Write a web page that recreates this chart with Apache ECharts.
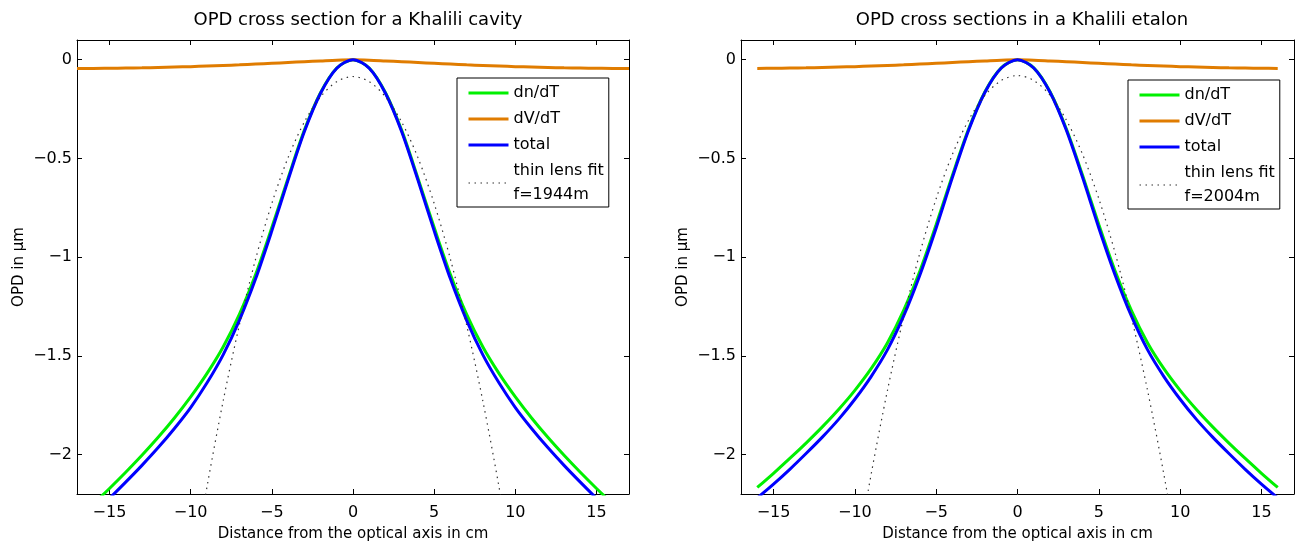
<!DOCTYPE html>
<html>
<head>
<meta charset="utf-8">
<script src="https://cdn.jsdelivr.net/npm/echarts@6/dist/echarts.min.js"></script>
<style>
  html, body { margin: 0; padding: 0; background: #fff; }
  #main { width: 1298px; height: 547px; }
</style>
</head>
<body>
<div id="main"></div>
<script>
// x positions in cm
const xLeft = [-17,-16,-15,-14,-13,-12,-11,-10,-9,-8,-7,-6,-5,-4,-3,-2,-1,0,1,2,3,4,5,6,7,8,9,10,11,12,13,14,15,16,17]
const xRight = [-16,-15,-14,-13,-12,-11,-10,-9,-8,-7,-6,-5,-4,-3,-2,-1,0,1,2,3,4,5,6,7,8,9,10,11,12,13,14,15,16]
const xLens = [-10,-9,-8,-7,-6,-5,-4,-3,-2,-1,0,1,2,3,4,5,6,7,8,9,10]

// cavity (left)
const dnLeft = [-2.325,-2.25,-2.172,-2.09,-2.004,-1.913,-1.815,-1.708,-1.59,-1.455,-1.29,-1.088,-0.85,-0.6,-0.358,-0.167,-0.042,0,-0.042,-0.167,-0.358,-0.6,-0.85,-1.088,-1.29,-1.455,-1.59,-1.708,-1.815,-1.913,-2.004,-2.09,-2.172,-2.25,-2.325]
const dvLeft = [-0.044,-0.044,-0.043,-0.042,-0.041,-0.039,-0.037,-0.035,-0.032,-0.029,-0.026,-0.022,-0.018,-0.014,-0.01,-0.006,-0.002,0,-0.002,-0.006,-0.01,-0.014,-0.018,-0.022,-0.026,-0.029,-0.032,-0.035,-0.037,-0.039,-0.041,-0.042,-0.043,-0.044,-0.044]
const totalLeft = [-2.378,-2.3,-2.222,-2.14,-2.055,-1.965,-1.868,-1.762,-1.638,-1.495,-1.32,-1.11,-0.867,-0.61,-0.365,-0.17,-0.043,0,-0.043,-0.17,-0.365,-0.61,-0.867,-1.11,-1.32,-1.495,-1.638,-1.762,-1.868,-1.965,-2.055,-2.14,-2.222,-2.3,-2.378]
const lensLeft = [-2.655,-2.167,-1.73,-1.344,-1.01,-0.728,-0.496,-0.316,-0.188,-0.111,-0.085,-0.111,-0.188,-0.316,-0.496,-0.728,-1.01,-1.344,-1.73,-2.167,-2.655]

// etalon (right)
const dnRight = [-2.167,-2.095,-2.02,-1.942,-1.86,-1.772,-1.675,-1.565,-1.435,-1.27,-1.07,-0.835,-0.585,-0.35,-0.162,-0.041,0,-0.041,-0.162,-0.35,-0.585,-0.835,-1.07,-1.27,-1.435,-1.565,-1.675,-1.772,-1.86,-1.942,-2.02,-2.095,-2.167]
const dvRight = [-0.044,-0.043,-0.042,-0.041,-0.039,-0.037,-0.035,-0.032,-0.029,-0.026,-0.022,-0.018,-0.014,-0.01,-0.006,-0.002,0,-0.002,-0.006,-0.01,-0.014,-0.018,-0.022,-0.026,-0.029,-0.032,-0.035,-0.037,-0.039,-0.041,-0.042,-0.043,-0.044]
const totalRight = [-2.22,-2.15,-2.075,-1.995,-1.912,-1.822,-1.72,-1.605,-1.47,-1.298,-1.09,-0.852,-0.596,-0.356,-0.165,-0.042,0,-0.042,-0.165,-0.356,-0.596,-0.852,-1.09,-1.298,-1.47,-1.605,-1.72,-1.822,-1.912,-1.995,-2.075,-2.15,-2.22]
const lensRight = [-2.575,-2.101,-1.677,-1.303,-0.978,-0.704,-0.479,-0.305,-0.18,-0.105,-0.08,-0.105,-0.18,-0.305,-0.479,-0.704,-0.978,-1.303,-1.677,-2.101,-2.575]

const xTicks = [-15,-10,-5,0,5,10,15]
const yTicks = [-2,-1.5,-1,-0.5,0]

const titles = ['OPD cross section for a Khalili cavity', 'OPD cross sections in a Khalili etalon']
const lensNames = ['thin lens fit\nf=1944m', 'thin lens fit\nf=2004m']

const FONT = 'DejaVu Sans'
const pair = (xs, ys) => xs.map((x, i) => [x, ys[i]])
const fmt = v => (v < 0 ? '\u2212' : '') + Math.abs(v)

const chart = echarts.init(document.getElementById('main'))

function xAxisPair(grid) {
  const base = {
    gridIndex: grid, type: 'value', min: -17, max: 17,
    splitLine: { show: false },
    axisLine: { onZero: false, lineStyle: { color: '#000', width: 1 } },
    axisTick: { inside: true, length: 5, customValues: xTicks, lineStyle: { color: '#000' } }
  }
  return [
    Object.assign({}, base, {
      position: 'bottom',
      name: 'Distance from the optical axis in cm', nameLocation: 'middle', nameGap: 33,
      nameTextStyle: { fontFamily: FONT, fontSize: 15, color: '#000' },
      axisLabel: { customValues: xTicks, formatter: fmt, color: '#000', fontFamily: FONT, fontSize: 16, margin: 11 }
    }),
    Object.assign({}, base, { position: 'top', axisLabel: { show: false } })
  ]
}

function yAxisPair(grid) {
  const base = {
    gridIndex: grid, type: 'value', min: -2.2, max: 0.1,
    splitLine: { show: false },
    axisLine: { onZero: false, lineStyle: { color: '#000', width: 1 } },
    axisTick: { inside: true, length: 5, customValues: yTicks, lineStyle: { color: '#000' } }
  }
  return [
    Object.assign({}, base, {
      position: 'left',
      name: 'OPD in \u00b5m', nameLocation: 'middle', nameGap: 50,
      nameTextStyle: { fontFamily: FONT, fontSize: 15, color: '#000' },
      axisLabel: { customValues: yTicks, formatter: fmt, color: '#000', fontFamily: FONT, fontSize: 16, margin: 5 }
    }),
    Object.assign({}, base, { position: 'right', axisLabel: { show: false } })
  ]
}

function seriesFor(grid, xs, dn, dv, tot, lens, lensName) {
  const ax = grid * 2
  const common = { type: 'line', xAxisIndex: ax, yAxisIndex: ax, showSymbol: false, symbol: 'none', smooth: 0.3, clip: true }
  return [
    Object.assign({}, common, { name: 'dn/dT', data: pair(xs, dn), lineStyle: { color: '#00f000', width: 3 }, itemStyle: { color: '#00f000' } }),
    Object.assign({}, common, { name: 'dV/dT', data: pair(xs, dv), lineStyle: { color: '#e07c00', width: 3 }, itemStyle: { color: '#e07c00' } }),
    Object.assign({}, common, { name: 'total', data: pair(xs, tot), lineStyle: { color: '#0000ff', width: 3 }, itemStyle: { color: '#0000ff' } }),
    Object.assign({}, common, { name: lensName, data: pair(xLens, lens), lineStyle: { color: '#333', width: 1.2, type: [1.5, 4.5] }, itemStyle: { color: '#333' } })
  ]
}

function legendFor(left, top, lensName) {
  return {
    data: [
      { name: 'dn/dT', lineStyle: { width: 3 } },
      { name: 'dV/dT', lineStyle: { width: 3 } },
      { name: 'total', lineStyle: { width: 3 } },
      { name: lensName, lineStyle: { width: 1.2 } }
    ],
    left: left, top: top, orient: 'vertical',
    itemWidth: 40, itemHeight: 14, itemGap: 2,
    padding: [3, 5, 0, 10],
    borderColor: '#000', borderWidth: 1, backgroundColor: '#fff',
    selectedMode: false,
    itemStyle: { opacity: 0 },
    textStyle: { fontFamily: FONT, fontSize: 16, lineHeight: 24, color: '#000' }
  }
}

chart.setOption({
  animation: false,
  backgroundColor: '#fff',
  title: [
    { text: titles[0], left: 353, top: 6, textAlign: 'center', textStyle: { fontFamily: FONT, fontSize: 18, fontWeight: 'normal', color: '#000' } },
    { text: titles[1], left: 1017, top: 6, textAlign: 'center', textStyle: { fontFamily: FONT, fontSize: 18, fontWeight: 'normal', color: '#000' } }
  ],
  grid: [
    { left: 77, top: 40, width: 552, height: 459 },
    { left: 741, top: 40, width: 553, height: 459 }
  ],
  legend: [legendFor(457, 78, lensNames[0]), legendFor(1128, 80, lensNames[1])],
  xAxis: xAxisPair(0).concat(xAxisPair(1)),
  yAxis: yAxisPair(0).concat(yAxisPair(1)),
  series: seriesFor(0, xLeft, dnLeft, dvLeft, totalLeft, lensLeft, lensNames[0])
    .concat(seriesFor(1, xRight, dnRight, dvRight, totalRight, lensRight, lensNames[1]))
})
</script>
</body>
</html>
